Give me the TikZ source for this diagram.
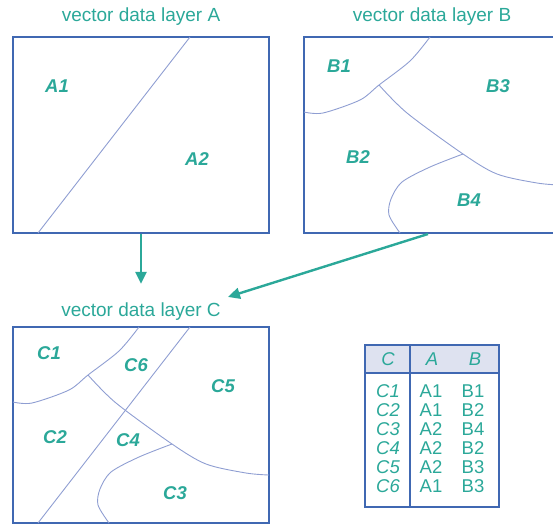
\documentclass[tikz,border=0pt]{standalone}
\usepackage{fontspec}
\setmainfont{Liberation Sans}
\usetikzlibrary{positioning,arrows.meta}
\definecolor{LayerBlue}{RGB}{64,104,178}
\definecolor{EdgeLilac}{RGB}{143,158,210}
\definecolor{LabelTeal}{RGB}{43,168,153}
\definecolor{HeadBand}{RGB}{222,226,240}
\tikzset{
  layerbox/.style={draw=LayerBlue,line width=2pt,minimum width=256pt,
    minimum height=196pt,inner sep=0pt},
  layertitle/.style={text=LabelTeal,font=\fontsize{19}{21}\selectfont,inner sep=0pt},
  boundary/.style={draw=EdgeLilac,line width=0.9pt},
  parcel/.style={text=LabelTeal,font=\fontsize{18.5}{20}\selectfont\bfseries\itshape,
    inner sep=0pt},
  mergearrow/.style={-{Triangle[length=12pt,width=11pt]},line width=2.4pt,draw=LabelTeal},
  cell/.style={text=LabelTeal,font=\fontsize{18.5}{19}\selectfont,inner sep=0pt},
  keycell/.style={cell,font=\fontsize{18.5}{19}\selectfont\itshape}
}
% parcel boundaries, in box coordinates
\newcommand{\splitA}{\draw[boundary] (25,196) -- (177,0);}
\newcommand{\splitB}{%
  \draw[boundary] plot[smooth] coordinates {(126,0) (106,24) (75,48) (56,63) (19,76) (0,75)};
  \draw[boundary] plot[smooth] coordinates {(75,48) (103,76) (159,117) (193,137) (233,146) (256,148)};
  \draw[boundary] plot[smooth] coordinates {(159,117) (126,130) (98,145) (87,162) (85,178) (96,196)};}

\begin{document}
\begin{tikzpicture}[x=1pt,y=-1pt]
  \useasboundingbox (0,0) rectangle (553,523);

  \node[layerbox] (layerA) at (141,135) {};
  \node[layerbox] (layerB) at (432,135) {};
  \node[layerbox] (layerC) at (141,425) {};
  \node[layertitle,above=10pt of layerA] (titleA) {vector data layer A};
  \node[layertitle,above=10pt of layerB] (titleB) {vector data layer B};
  \node[layertitle,above=5pt of layerC] (titleC) {vector data layer C};

  \begin{scope}[shift={(13,37)}] \splitA \end{scope}
  \begin{scope}[shift={(304,37)}] \splitB \end{scope}
  \begin{scope}[shift={(13,327)}] \splitA \splitB \end{scope}

  \node[parcel] (a1) at (57,86) {A1};
  \node[parcel] (a2) at (197,159) {A2};
  \node[parcel] (b1) at (339,66) {B1};
  \node[parcel] (b2) at (358,157) {B2};
  \node[parcel] (b3) at (498,86) {B3};
  \node[parcel] (b4) at (469,200) {B4};
  \node[parcel] (c1) at (49,353) {C1};
  \node[parcel] (c2) at (55,437) {C2};
  \node[parcel] (c3) at (175,493) {C3};
  \node[parcel] (c4) at (128,440) {C4};
  \node[parcel] (c5) at (223,386) {C5};
  \node[parcel] (c6) at (136,365) {C6};

  \draw[mergearrow] (layerA.south) -- ([yshift=19pt]titleC.north);
  \draw[mergearrow] ([xshift=-4pt]layerB.south) -- ([xshift=7pt,yshift=15pt]titleC.east);

  % attribute table
  \fill[HeadBand] (365,345) rectangle (499,373);
  \draw[LayerBlue,line width=2pt] (365,345) rectangle (499,507)
    (365,373) -- (499,373) (410,345) -- (410,507);
  \node[keycell] (headC) at (388,359) {C};
  \node[keycell] (headA) at (432,359) {A};
  \node[keycell] (headB) at (475,359) {B};
  \foreach \c/\a/\b [count=\i] in {C1/A1/B1,C2/A1/B2,C3/A2/B4,C4/A2/B2,C5/A2/B3,C6/A1/B3}{
    \node[keycell] (rowC\i) at (388,{372+19*\i}) {\c};
    \node[cell] (rowA\i) at (431,{372+19*\i}) {\a};
    \node[cell] (rowB\i) at (473,{372+19*\i}) {\b};
  }
\end{tikzpicture}
\end{document}
